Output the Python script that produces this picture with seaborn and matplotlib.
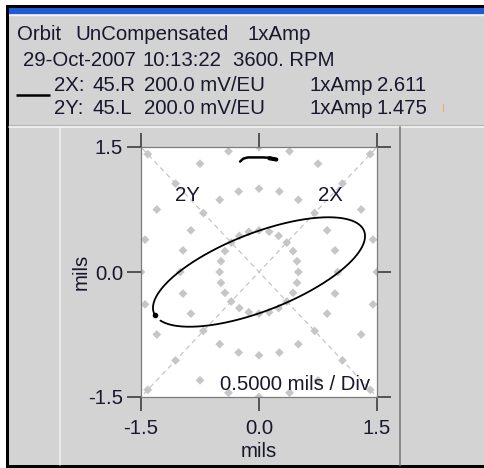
import numpy as np
import pandas as pd
import matplotlib
matplotlib.use("Agg")
import matplotlib.pyplot as plt
from matplotlib.patches import Rectangle
import seaborn as sns

# ---- channel setup -------------------------------------------------------
probe_names = ["2X", "2Y"]
probe_angles = [45, 135]            # probe direction, degrees from +x axis
probe_orient = ["45.R", "45.L"]
probe_sens = ["200.0 mV/EU", "200.0 mV/EU"]
amp_pp = [2.611, 1.475]             # 1x filtered amplitude, mils pk-pk
phase_lag = [176.0, 40.0]           # 1x phase lag, degrees

# ---- scale ---------------------------------------------------------------
tick_values = [-1.5, 0.0, 1.5]
tick_labels = ["-1.5", "0.0", "1.5"]
ring_radii = [0.5, 1.0, 1.5, 2.0]   # polar dot grid, 0.5 mils per division
ring_step_deg = 15
keyphasor_gap_deg = 10
scale_text = "0.5000 mils / Div"
axis_unit = "mils"

# rotation-direction marker at top of the plot
rot_arrow_x = [-0.24, -0.20, -0.14, 0.05, 0.15, 0.22]
rot_arrow_y = [1.325, 1.36, 1.375, 1.375, 1.37, 1.345]
rot_head_x = [0.13, 0.22]
rot_head_y = [1.365, 1.35]

# ---- header text ---------------------------------------------------------
title_parts = ["Orbit", "UnCompensated", "1xAmp"]
stamp_parts = ["29-Oct-2007", "10:13:22", "3600. RPM"]
amp_label = "1xAmp"

# ---- style ---------------------------------------------------------------
sns.set_theme(style="white")
plt.rcParams["font.family"] = ["Liberation Sans", "DejaVu Sans"]
FS = 14.7
TXT = "#17172e"
PANEL = "#d3d3d3"
DOT = "#c6c6c6"

W, H = 485, 468
fig = plt.figure(figsize=(W / 100, H / 100), dpi=100)
fig.patch.set_facecolor("white")

# window chrome drawn in pixel coordinates
bg = fig.add_axes([0, 0, 1, 1], zorder=0)
bg.set_xlim(0, W)
bg.set_ylim(H, 0)
bg.axis("off")
bg.add_patch(Rectangle((6, 5), W - 6, H - 5, color="black", lw=0))
bg.add_patch(Rectangle((9, 8), W - 9, H - 11, color=PANEL, lw=0))
bg.add_patch(Rectangle((9, 8), W - 9, 6, color="#1f5bd6", lw=0))
bg.plot([9, W], [14.5, 14.5], color="#f2f2f2", lw=1)
bg.plot([9, W], [125, 125], color="#b4b4b4", lw=0.8)
bg.plot([9, W], [126.5, 126.5], color="#f6f6f6", lw=1.1)
bg.plot([60, 60], [127, 465], color="#f2f2f2", lw=1.1)
bg.plot([400, 400], [127, 465], color="#8a8a8a", lw=1.4)

def put(x, y, s):
    bg.text(x, y, s, fontsize=FS, color=TXT, ha="left", va="baseline")

for x, s in zip([17, 75, 248], title_parts):
    put(x, 40, s)
for x, s in zip([23, 143, 233], stamp_parts):
    put(x, 66, s)
for y, name, ori, sens, amp in zip([91, 114], probe_names, probe_orient,
                                   probe_sens, amp_pp):
    put(54, y, f"{name}:")
    put(93, y, ori)
    put(144, y, sens)
    put(310, y, amp_label)
    put(377, y, f"{amp:.3f}")
bg.plot([16, 50], [95, 95], color="black", lw=1.8, solid_capstyle="butt")
bg.plot([443, 443], [104, 111], color="#e6b060", lw=0.8)

# ---- orbit plot ----------------------------------------------------------
ax = fig.add_axes([141 / W, 1 - 397 / H, 236 / W, 250 / H], zorder=1)
ax.set_facecolor("white")

# polar dot grid
grid_ang = np.deg2rad(np.arange(0, 360, ring_step_deg))
grid_df = pd.DataFrame(
    [(r * np.cos(a), r * np.sin(a)) for r in ring_radii for a in grid_ang],
    columns=["x", "y"])
sns.scatterplot(data=grid_df, x="x", y="y", marker="D", s=20, color=DOT,
                edgecolor="none", linewidth=0, ax=ax, zorder=1)

# probe axes
for ang, name in zip(probe_angles, probe_names):
    a = np.deg2rad(ang)
    ax.plot([-2.5 * np.cos(a), 2.5 * np.cos(a)],
            [-2.5 * np.sin(a), 2.5 * np.sin(a)],
            color=DOT, lw=0.9, ls=(0, (4, 3)), zorder=1)
    ax.text(1.29 * np.cos(a), 1.29 * np.sin(a), name, fontsize=FS, color=TXT,
            ha="center", va="center", zorder=3)

# 1x orbit reconstructed from the probe amplitudes and phases
wt = np.deg2rad(np.arange(0, 361 - keyphasor_gap_deg, 1.0))
ox = np.zeros_like(wt)
oy = np.zeros_like(wt)
for amp, lag, ang in zip(amp_pp, phase_lag, probe_angles):
    sig = amp / 2 * np.cos(wt - np.deg2rad(lag))
    ox += sig * np.cos(np.deg2rad(ang))
    oy += sig * np.sin(np.deg2rad(ang))
orbit_df = pd.DataFrame({"x": ox, "y": oy})
sns.lineplot(data=orbit_df, x="x", y="y", sort=False, estimator=None,
             color="black", lw=1.3, ax=ax, zorder=4)
ax.scatter(ox[:1], oy[:1], s=16, color="black", zorder=5, lw=0)

# rotation direction marker
ax.plot(rot_arrow_x, rot_arrow_y, color="black", lw=1.8,
        solid_capstyle="round", zorder=4)
ax.plot(rot_head_x, rot_head_y, color="black", lw=3.0,
        solid_capstyle="round", zorder=4)

ax.text(1.41, -1.345, scale_text, fontsize=FS, color=TXT,
        ha="right", va="center", zorder=3)

ax.set_xlim(-1.5, 1.5)
ax.set_ylim(-1.5, 1.5)
ax.set_xticks(tick_values, tick_labels)
ax.set_yticks(tick_values, tick_labels)
ax.tick_params(direction="out", length=10, width=1.1, color="#303030",
               bottom=True, left=True, top=True, right=True,
               labeltop=False, labelright=False,
               labelsize=FS, labelcolor=TXT)
ax.tick_params(axis="x", pad=6)
ax.tick_params(axis="y", pad=3)
for sp in ax.spines.values():
    sp.set_visible(True)
    sp.set_color("#7c7c7c")
    sp.set_linewidth(0.9)

ax.set_xlabel(axis_unit, fontsize=FS, color=TXT)
ax.set_ylabel(axis_unit, fontsize=FS, color=TXT)
ax.xaxis.set_label_coords(0.5, -0.18)
ax.yaxis.set_label_coords(-0.215, 0.5)

fig.savefig("out.png", dpi=100, facecolor=fig.get_facecolor())
